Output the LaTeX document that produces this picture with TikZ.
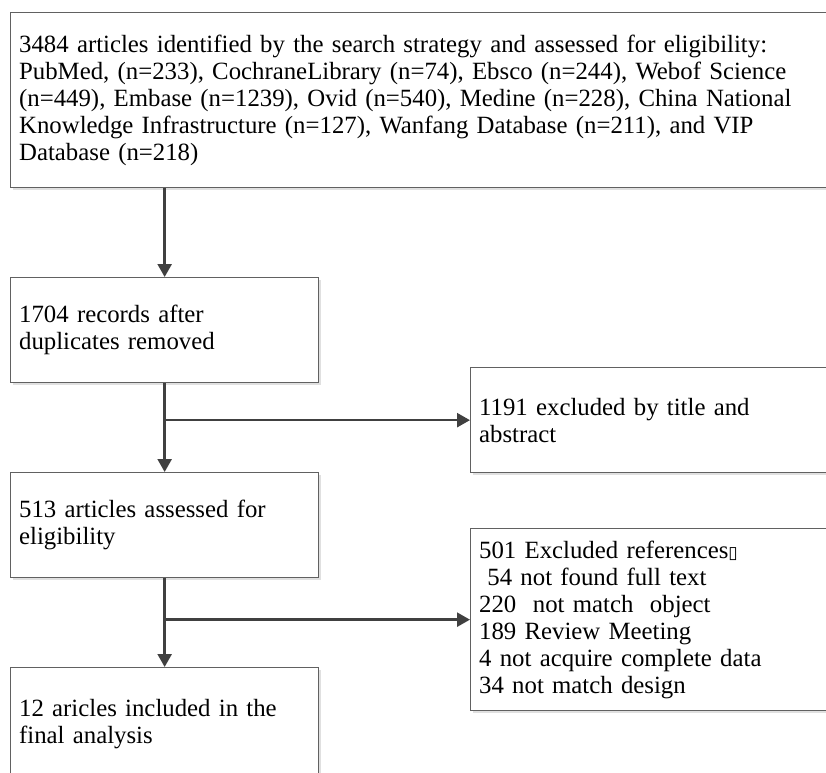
\documentclass[tikz,border=0pt]{standalone}
\usepackage{fontspec}
\setmainfont{Liberation Serif}
\newfontfamily\symfont{DejaVu Sans}
\usetikzlibrary{arrows.meta,shadows}
\begin{document}
\begin{tikzpicture}[x=1pt, y=-1pt, >={Triangle[length=13pt,width=14pt]},
  cadre/.style={rectangle, draw=black!62, line width=1.3pt, fill=white,
    anchor=north west, align=left, inner xsep=8.5pt, inner ysep=0pt,
    font=\fontsize{24.8}{27}\selectfont,
    drop shadow={shadow xshift=2pt, shadow yshift=-2pt, fill=black!12, opacity=1}},
  fleche/.style={->, draw=black!75, line width=2.4pt}]
\useasboundingbox (0,0) rectangle (826,772);
% colonne principale
\node[cadre, text width=803pt, minimum height=175pt](b0) at (10,12)
  {3484 articles identified by the search strategy and assessed for eligibility:\\
   PubMed, (n=233), CochraneLibrary (n=74), Ebsco (n=244), Webof Science\\
   (n=449), Embase (n=1239), Ovid (n=540), Medine (n=228), China National\\
   Knowledge Infrastructure (n=127), Wanfang Database (n=211), and VIP\\
   Database (n=218)};
\node[cadre, text width=291pt, minimum height=105pt](b1) at (10,277)
  {1704 records after\\ duplicates removed};
\node[cadre, text width=291pt, minimum height=105pt](b2) at (10,472)
  {513 articles assessed for\\ eligibility};
\node[cadre, text width=291pt, minimum height=113pt](b3) at (10,667)
  {12 aricles included in the\\ final analysis};
% exclusions
\node[cadre, text width=343pt, minimum height=105pt](e1) at (470,367)
  {1191 excluded by title and\\ abstract};
\node[cadre, text width=343pt, minimum height=182pt](e2) at (470,528)
  {501 Excluded references{\symfont\fontsize{17}{27}\selectfont ▯}\\
   \ 54 not found full text\\
   220\ \ not match\ \ object\\
   189 Review Meeting\\
   4 not acquire complete data\\
   34 not match design};
\coordinate (j1) at (b1.south |- e1.west);
\coordinate (j2) at (b2.south |- e2.west);
\draw[fleche] (b1.north |- b0.south) -- (b1.north);
\draw[fleche] (b1.south) -- (b2.north);
\draw[fleche] (j1) -- (e1.west);
\draw[fleche] (b2.south) -- (b3.north);
\draw[fleche] (j2) -- (e2.west);
\end{tikzpicture}
\end{document}
